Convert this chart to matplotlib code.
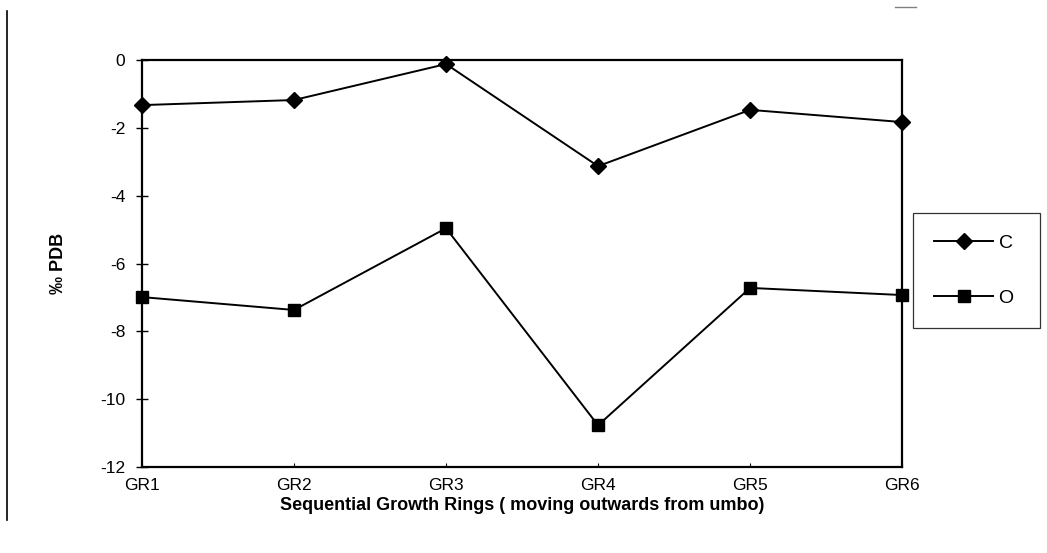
import matplotlib
matplotlib.use('Agg')
import matplotlib.pyplot as plt
from matplotlib.lines import Line2D

plt.rcParams['font.family'] = ['Liberation Sans', 'DejaVu Sans']
plt.rcParams['axes.unicode_minus'] = False

rings = ['GR1', 'GR2', 'GR3', 'GR4', 'GR5', 'GR6']
carbon = [-1.33, -1.18, -0.12, -3.13, -1.47, -1.83]
oxygen = [-6.99, -7.37, -4.96, -10.77, -6.72, -6.93]

fig = plt.figure(figsize=(10.47, 5.53), dpi=100)
ax = fig.add_axes([0.1356, 0.1555, 0.726, 0.736])

x = list(range(len(rings)))
ax.plot(x, carbon, color='black', linewidth=1.4, marker='D', markersize=8, label='C')
ax.plot(x, oxygen, color='black', linewidth=1.4, marker='s', markersize=9, label='O')

ax.set_xlim(0, len(rings) - 1)
ax.set_ylim(-12, 0)
ax.set_yticks(range(-12, 1, 2))
ax.set_xticks(x)
ax.set_xticklabels(rings, fontsize=12.5)
ax.tick_params(axis='y', labelsize=12.5, direction='inout', length=8, width=1, pad=8)
ax.tick_params(axis='x', direction='in', length=3, width=0.8, pad=8)
for s in ax.spines.values():
    s.set_linewidth(1.6)
    s.set_clip_on(False)
for l in ax.get_lines():
    l.set_clip_on(False)

ax.set_xlabel('Sequential Growth Rings ( moving outwards from umbo)', fontsize=13,
              fontweight='bold', labelpad=3)
ax.set_ylabel('‰ PDB', fontsize=13, fontweight='bold', labelpad=24)

# legend box on the right
handles = [Line2D([], [], color='black', linewidth=1.4, marker='D', markersize=8),
           Line2D([], [], color='black', linewidth=1.4, marker='s', markersize=9)]
leg = fig.legend(handles, ['C', 'O'], loc='center', bbox_to_anchor=(0.872, 0.407, 0.121, 0.208),
                 bbox_transform=fig.transFigure, mode='expand', frameon=True, fancybox=False,
                 edgecolor='black', fontsize=14, handlelength=3.0, labelspacing=1.9,
                 borderpad=1.1, handletextpad=0.3, borderaxespad=0)
leg.get_frame().set_linewidth(0.9)

# scan border on the left
fig.add_artist(Line2D([0.0067, 0.0067], [0.06, 0.98], color='black', linewidth=1.2,
                      transform=fig.transFigure))
fig.add_artist(Line2D([0.855, 0.875], [0.988, 0.988], color='gray', linewidth=1.0,
                      transform=fig.transFigure))

fig.savefig('out.png', dpi=100)
